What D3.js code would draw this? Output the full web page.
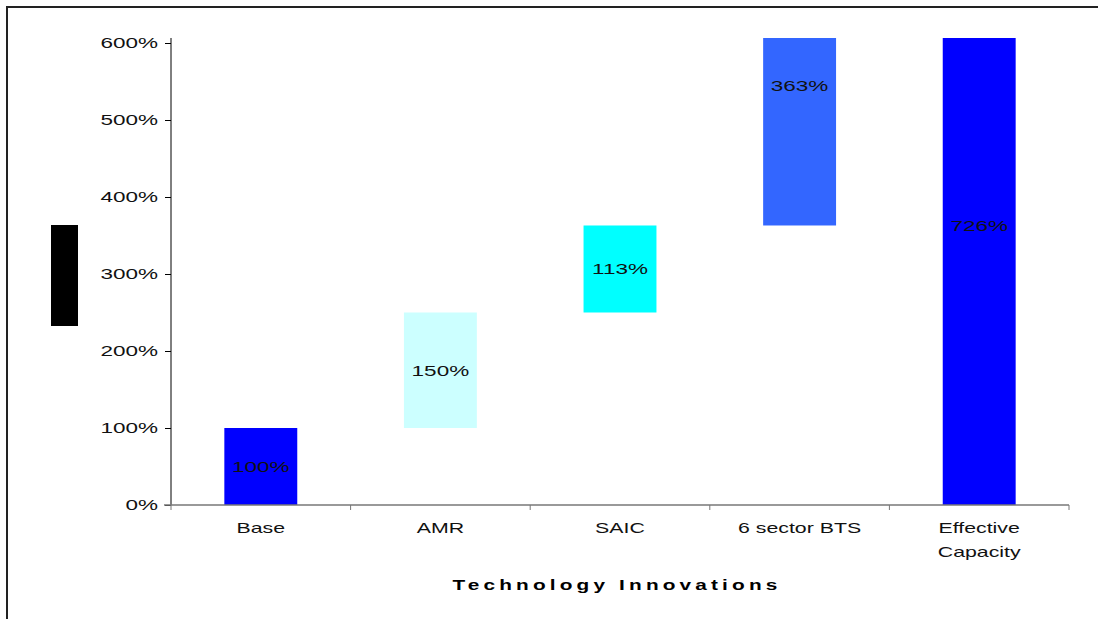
<!DOCTYPE html>
<html>
<head>
<meta charset="utf-8">
<script src="https://cdn.jsdelivr.net/npm/d3@7"></script>
<style>
	body { margin: 0; background: #fff; }
	text { font-family: Arial, "Liberation Sans", sans-serif; }
</style>
</head>
<body>
<svg id="chart" width="1098" height="619"></svg>
<script>
	// waterfall data, values in %
	var categories = ["Base", "AMR", "SAIC", "6 sector BTS", "Effective Capacity"];
	var steps = [100, 150, 113, 363, 726];
	var starts = [0, 100, 250, 363, 0];
	var colors = ["#0000ff", "#ccffff", "#00ffff", "#3366ff", "#0000ff"];
	var yTicks = [0, 100, 200, 300, 400, 500, 600];

	var margin = {top: 43, right: 29, bottom: 114, left: 171},
		width = 1098 - margin.left - margin.right,
		height = 619 - margin.top - margin.bottom;

	var svg = d3.select("#chart");

	// the original text is drawn horizontally stretched
	function stretch(sel, factor) {
		sel.each(function() {
			var w = this.getComputedTextLength();
			d3.select(this)
				.attr("textLength", w * factor)
				.attr("lengthAdjust", "spacingAndGlyphs");
		});
	}

	// outer frame (top and left edges visible)
	svg.append("path")
		.attr("d", "M7,619V7H1098")
		.attr("fill", "none")
		.attr("stroke", "#222")
		.attr("stroke-width", 2);

	var g = svg.append("g")
		.attr("transform", "translate(" + margin.left + "," + margin.top + ")");

	var x = d3.scaleBand()
		.domain(categories)
		.range([0, width])
		.paddingInner(0.594)
		.paddingOuter(0.297);

	var y = d3.scaleLinear()
		.domain([0, 600])
		.range([height, 0]);

	// plot area clip, slightly above 600%
	svg.append("defs").append("clipPath")
		.attr("id", "plotClip")
		.append("rect")
		.attr("x", 0)
		.attr("y", y(606.5))
		.attr("width", width)
		.attr("height", height - y(606.5));

	var rows = categories.map(function(c, i) {
		return {cat: c, start: starts[i], end: starts[i] + steps[i], value: steps[i], color: colors[i]};
	});

	g.append("g")
		.attr("clip-path", "url(#plotClip)")
		.selectAll("rect")
		.data(rows)
		.enter().append("rect")
		.attr("x", function(d) { return x(d.cat); })
		.attr("width", x.bandwidth())
		.attr("y", function(d) { return y(d.end); })
		.attr("height", function(d) { return y(d.start) - y(d.end); })
		.attr("fill", function(d) { return d.color; });

	// value labels at bar middle
	var vals = g.selectAll(".val")
		.data(rows)
		.enter().append("text")
		.attr("class", "val")
		.attr("x", function(d) { return x(d.cat) + x.bandwidth() / 2; })
		.attr("y", function(d) { return y((d.start + d.end) / 2); })
		.attr("dy", "0.35em")
		.attr("text-anchor", "middle")
		.style("font-size", "15px")
		.attr("fill", "#111")
		.text(function(d) { return d.value + "%"; });
	stretch(vals, 1.5);

	// y axis
	var yAxis = g.append("g")
		.call(d3.axisLeft(y).tickValues(yTicks).tickSize(6).tickFormat(function(d) { return d + "%"; }));
	yAxis.select(".domain").attr("stroke", "#000").attr("d", "M0," + height + "V" + y(606.5));
	yAxis.selectAll(".tick line").attr("stroke", "#000");
	var yl = yAxis.selectAll(".tick text")
		.attr("x", -13)
		.style("font-size", "15px")
		.style("font-family", "Arial, 'Liberation Sans', sans-serif")
		.attr("fill", "#111");
	stretch(yl, 1.5);

	// x axis with ticks on band boundaries
	var xAx = g.append("g").attr("transform", "translate(0," + height + ")");
	xAx.append("line")
		.attr("x1", -7).attr("x2", width)
		.attr("stroke", "#777").attr("stroke-width", 1.5);
	var step = x.step();
	xAx.selectAll(".xt")
		.data(d3.range(categories.length + 1))
		.enter().append("line")
		.attr("x1", function(i) { return i * step; })
		.attr("x2", function(i) { return i * step; })
		.attr("y1", 0).attr("y2", 5)
		.attr("stroke", "#777");

	var xl = xAx.selectAll(".xl")
		.data(categories)
		.enter().append("text")
		.attr("class", "xl")
		.attr("text-anchor", "middle")
		.attr("x", function(d) { return x(d) + x.bandwidth() / 2; })
		.attr("y", 28)
		.style("font-size", "15px")
		.attr("fill", "#111");
	xl.each(function(d) {
		var t = d3.select(this);
		var parts = d === "Effective Capacity" ? ["Effective", "Capacity"] : [d];
		parts.forEach(function(p, k) {
			t.append("tspan")
				.attr("x", x(d) + x.bandwidth() / 2)
				.attr("dy", k === 0 ? 0 : 24)
				.text(p);
		});
	});
	stretch(xl.selectAll("tspan"), 1.42);

	// axis title
	svg.append("text")
		.attr("x", 617)
		.attr("y", 590)
		.attr("text-anchor", "middle")
		.style("font-size", "15px")
		.style("font-weight", "bold")
		.style("letter-spacing", "3px")
		.attr("fill", "#000")
		.attr("textLength", 329)
		.attr("lengthAdjust", "spacingAndGlyphs")
		.text("Technology Innovations");

	// y title renders as a solid black block in the original
	svg.append("rect")
		.attr("x", 51)
		.attr("y", 225)
		.attr("width", 27)
		.attr("height", 101)
		.attr("fill", "#000");
</script>
</body>
</html>
